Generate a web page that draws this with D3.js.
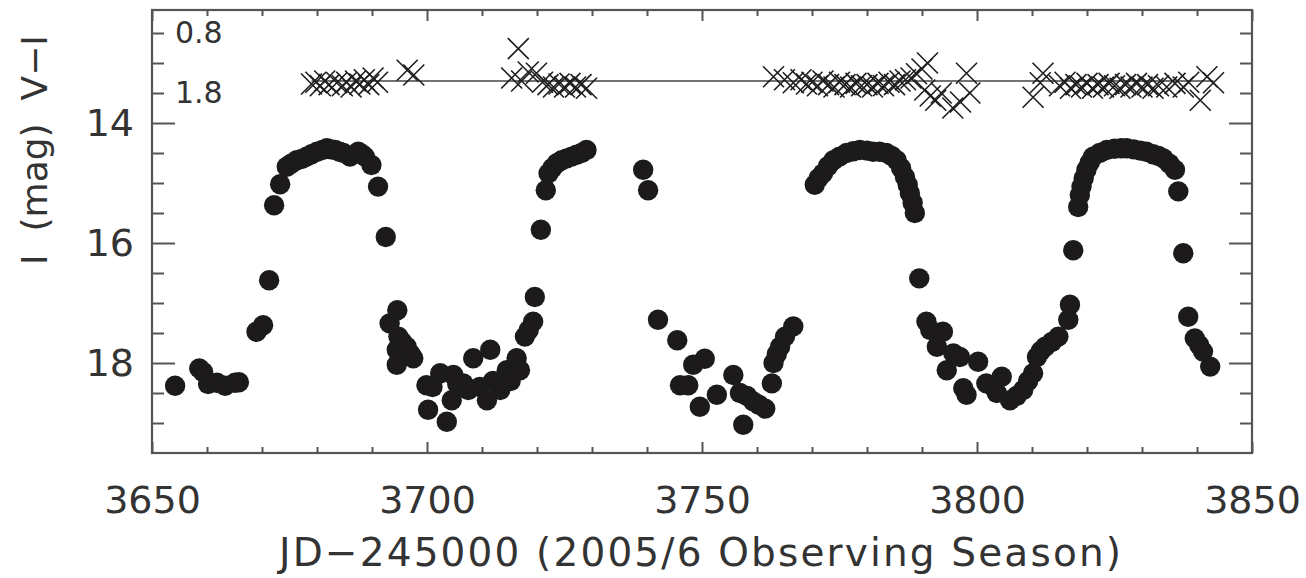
<!DOCTYPE html>
<html>
<head>
<meta charset="utf-8">
<script src="https://cdn.jsdelivr.net/npm/d3@7"></script>
<style>
  html, body { margin: 0; padding: 0; background: #fff; }
  svg { display: block; }
  text { font-family: "DejaVu Sans", sans-serif; fill: #333; }
</style>
</head>
<body>
<svg id="chart" width="1306" height="578"></svg>
<script>
// ---------- data ----------
const iDays = [
  3654.2, 3658.6, 3659.3, 3660.2, 3661.8, 3663.3, 3665.1, 3665.8,
  3669.0, 3670.2, 3671.3, 3672.2, 3673.3, 3674.5, 3675.3, 3676.3, 3677.2, 3678.1, 3679.0,
  3680.0, 3681.0, 3681.8, 3682.6, 3683.3, 3684.1, 3684.8, 3686.0, 3687.5, 3688.2, 3688.7,
  3689.9, 3691.1, 3692.5, 3693.2, 3694.6, 3694.8, 3694.5, 3695.5, 3696.3, 3697.0, 3697.5,
  3694.5, 3699.9, 3700.2,
  3701.0, 3702.4, 3703.6, 3704.5, 3704.8, 3705.5, 3706.6, 3707.5, 3708.4, 3709.6, 3710.9,
  3711.5, 3712.0, 3713.3, 3714.5, 3715.2, 3716.3, 3716.9, 3717.8, 3718.5, 3719.3, 3719.6,
  3720.7, 3721.6, 3722.1, 3722.8, 3723.6, 3724.5, 3725.4, 3726.3, 3727.2, 3728.1, 3729.0,
  3739.3, 3740.2, 3742.0, 3745.5, 3746.0, 3747.5, 3748.4, 3749.6, 3750.5, 3752.7, 3755.7,
  3756.9, 3757.5, 3758.2, 3759.3, 3760.4, 3761.5, 3762.7, 3763.0, 3763.6, 3764.2, 3765.1, 3766.6,
  3770.5, 3771.2, 3772.0, 3772.9, 3773.9, 3775.0, 3776.3, 3777.5, 3778.7, 3780.0, 3781.1,
  3782.3, 3783.5, 3784.5, 3785.4, 3786.2, 3786.9, 3787.4, 3787.8, 3788.3, 3788.7, 3789.5,
  3790.8, 3791.5, 3792.7, 3793.8, 3794.5, 3795.7, 3796.9, 3797.5, 3798.1, 3800.2, 3801.7,
  3803.0, 3803.6, 3804.5, 3806.0, 3807.2, 3808.4, 3809.3, 3810.2, 3810.9, 3811.6, 3812.4,
  3813.6, 3814.8, 3816.6, 3816.9, 3817.5, 3818.4, 3818.7, 3819.0, 3819.4, 3819.9, 3820.5,
  3821.1, 3822.3, 3823.6, 3825.0, 3826.2, 3827.2, 3828.5, 3829.7, 3830.8, 3832.0, 3833.0,
  3833.9, 3835.0, 3836.0, 3836.6, 3837.5, 3838.4, 3839.6, 3840.4, 3841.1, 3842.4
];
const iMags = [
  18.38, 18.09, 18.15, 18.35, 18.33, 18.38, 18.33, 18.32,
  17.48, 17.37, 16.62, 15.37, 15.02, 14.73, 14.68, 14.62, 14.60, 14.56, 14.52,
  14.48, 14.45, 14.42, 14.44, 14.45, 14.48, 14.50, 14.56, 14.48, 14.52, 14.56,
  14.70, 15.06, 15.90, 17.34, 17.12, 17.56, 17.78, 17.65, 17.73, 17.85, 17.92,
  18.03, 18.37, 18.78,
  18.40, 18.17, 18.98, 18.62, 18.20, 18.35, 18.34, 18.45, 17.92, 18.40, 18.62,
  17.78, 18.30, 18.45, 18.12, 18.30, 17.92, 18.12, 17.56, 17.45, 17.31, 16.90,
  15.78, 15.12, 14.84, 14.75, 14.67, 14.62, 14.59, 14.56, 14.53, 14.50, 14.45,
  14.78, 15.12, 17.28, 17.62, 18.37, 18.37, 18.03, 18.73, 17.93, 18.53, 18.20,
  18.50, 19.03, 18.55, 18.64, 18.70, 18.76, 18.34, 18.00, 17.85, 17.73, 17.56, 17.39,
  15.03, 14.92, 14.84, 14.72, 14.62, 14.56, 14.50, 14.47, 14.45, 14.46, 14.48,
  14.48, 14.50, 14.55, 14.62, 14.75, 14.90, 15.03, 15.17, 15.33, 15.50, 16.59,
  17.31, 17.45, 17.73, 17.48, 18.12, 17.84, 17.90, 18.42, 18.53, 17.98, 18.34,
  18.40, 18.50, 18.23, 18.62, 18.55, 18.45, 18.30, 18.17, 17.90, 17.80, 17.73,
  17.65, 17.56, 17.28, 17.03, 16.12, 15.40, 15.20, 15.06, 14.92, 14.78, 14.66,
  14.56, 14.50, 14.45, 14.43, 14.42, 14.42, 14.44, 14.46, 14.48, 14.52, 14.55,
  14.59, 14.68, 14.78, 15.14, 16.17, 17.23, 17.59, 17.70, 17.81, 18.06
];

const viDays = [
  3679.0, 3679.8, 3680.6, 3681.4, 3682.2, 3683.6, 3684.6, 3685.4, 3686.2, 3687.0,
  3687.8, 3688.6, 3689.4, 3690.2, 3691.0, 3696.4, 3697.6,
  3715.4, 3716.6, 3717.2, 3718.4, 3719.9, 3721.0, 3722.0, 3723.0, 3724.0, 3725.0,
  3726.0, 3727.0, 3728.0, 3729.0,
  3763.0, 3765.0, 3766.6, 3768.0, 3769.0, 3770.0, 3771.0, 3772.0, 3773.0, 3774.0,
  3775.0, 3776.0, 3777.0, 3778.0, 3779.0, 3780.0, 3781.0, 3782.0, 3783.0, 3784.0,
  3785.0, 3786.0, 3787.0, 3788.0, 3789.0, 3790.0, 3791.0, 3790.5, 3791.5, 3792.5,
  3793.5, 3795.6, 3797.0, 3798.1, 3798.7,
  3810.2, 3811.5, 3812.0, 3815.0, 3816.0, 3817.0, 3818.0, 3819.0, 3820.0, 3821.0,
  3822.0, 3823.0, 3824.0, 3825.0, 3826.0, 3827.0, 3828.0, 3829.0, 3830.0, 3831.0,
  3832.0, 3833.0, 3834.5, 3836.0, 3837.5, 3838.5, 3840.6, 3841.8, 3843.0
];
const viColors = [
  1.65, 1.62, 1.68, 1.60, 1.66, 1.63, 1.68, 1.62, 1.70, 1.60,
  1.65, 1.58, 1.66, 1.55, 1.62, 1.42, 1.50,
  1.55, 1.06, 1.60, 1.45, 1.47, 1.62, 1.66, 1.70, 1.65, 1.70,
  1.64, 1.70, 1.66, 1.72,
  1.53, 1.58, 1.63, 1.58, 1.65, 1.62, 1.68, 1.60, 1.66, 1.70,
  1.62, 1.66, 1.70, 1.64, 1.68, 1.66, 1.70, 1.64, 1.68, 1.62,
  1.66, 1.60, 1.58, 1.55, 1.48, 1.40, 1.30, 1.75, 1.85, 1.92,
  1.80, 2.05, 1.95, 1.47, 1.80,
  1.87, 1.63, 1.47, 1.68, 1.62, 1.72, 1.66, 1.70, 1.64, 1.72,
  1.66, 1.70, 1.64, 1.68, 1.72, 1.66, 1.70, 1.64, 1.70, 1.66,
  1.72, 1.68, 1.70, 1.64, 1.70, 1.62, 1.92, 1.53, 1.63
];
const viMean = 1.6;

const xMajorTicks = [3650, 3700, 3750, 3800, 3850];
const iMajorTicks = [14, 16, 18];
const viTickLabels = [0.8, 1.8];
const xTitle = "JD\u2212245000 (2005/6 Observing Season)";
const yTitle = "I  (mag)  V\u2212I";

// ---------- layout ----------
const L = 152, R = 1252, T = 10, B = 453;
const svg = d3.select("#chart");
const x = d3.scaleLinear().domain([3650, 3850]).range([L, R]);
const yI = d3.scaleLinear().domain([14, 18]).range([123, 363]);
const yVI = d3.scaleLinear().domain([0.8, 1.8]).range([33, 93]);

const xMinor = d3.range(3650, 3851, 10).filter(v => !xMajorTicks.includes(v));
const iMinor = d3.range(12.5, 19.01, 0.5).filter(v => !iMajorTicks.includes(v));

const axisColor = "#555";
function styleAxis(g) {
  g.select(".domain").remove();
  g.selectAll(".tick line").attr("stroke", axisColor).attr("stroke-width", 2);
}

// bottom
svg.append("g").attr("transform", `translate(0,${B})`)
  .call(d3.axisBottom(x).tickValues(xMajorTicks).tickSize(-11).tickPadding(33).tickFormat(d3.format("d")))
  .call(styleAxis)
  .call(g => g.selectAll("text").attr("font-size", 38).attr("fill", "#333").attr("font-family", "DejaVu Sans"));
svg.append("g").attr("transform", `translate(0,${B})`)
  .call(d3.axisBottom(x).tickValues(xMinor).tickSize(-6).tickFormat(""))
  .call(styleAxis);
// top
svg.append("g").attr("transform", `translate(0,${T})`)
  .call(d3.axisTop(x).tickValues(xMajorTicks).tickSize(-11).tickFormat(""))
  .call(styleAxis);
svg.append("g").attr("transform", `translate(0,${T})`)
  .call(d3.axisTop(x).tickValues(xMinor).tickSize(-6).tickFormat(""))
  .call(styleAxis);
// left
svg.append("g").attr("transform", `translate(${L},0)`)
  .call(d3.axisLeft(yI).tickValues(iMajorTicks).tickSize(-23).tickPadding(18).tickFormat(d3.format("d")))
  .call(styleAxis)
  .call(g => g.selectAll("text").attr("font-size", 38).attr("fill", "#333").attr("font-family", "DejaVu Sans"));
svg.append("g").attr("transform", `translate(${L},0)`)
  .call(d3.axisLeft(yI).tickValues(iMinor).tickSize(-12).tickFormat(""))
  .call(styleAxis);
// right
svg.append("g").attr("transform", `translate(${R},0)`)
  .call(d3.axisRight(yI).tickValues(iMajorTicks).tickSize(-23).tickFormat(""))
  .call(styleAxis);
svg.append("g").attr("transform", `translate(${R},0)`)
  .call(d3.axisRight(yI).tickValues(iMinor).tickSize(-12).tickFormat(""))
  .call(styleAxis);
// V-I labels inside
svg.append("g").attr("transform", `translate(${L},0)`)
  .call(d3.axisRight(yVI).tickValues(viTickLabels).tickSize(0).tickPadding(23).tickFormat(d3.format(".1f")))
  .call(g => g.select(".domain").remove())
  .call(g => g.selectAll("line").remove())
  .call(g => g.selectAll("text").attr("font-size", 30).attr("fill", "#333").attr("font-family", "DejaVu Sans"));

// frame
svg.append("rect").attr("x", L).attr("y", T).attr("width", R - L).attr("height", B - T)
  .attr("fill", "none").attr("stroke", axisColor).attr("stroke-width", 2.2);

// mean V-I line
svg.append("line")
  .attr("x1", x(d3.min(viDays))).attr("x2", x(d3.max(viDays)))
  .attr("y1", yVI(viMean)).attr("y2", yVI(viMean))
  .attr("stroke", "#444").attr("stroke-width", 1.6);

// V-I crosses
const h = 10.5;
svg.append("g").selectAll("path").data(viDays.map((d, i) => [d, viColors[i]])).join("path")
  .attr("d", d => {
    const cx = x(d[0]), cy = yVI(d[1]);
    return `M${cx - h},${cy - h}L${cx + h},${cy + h}M${cx - h},${cy + h}L${cx + h},${cy - h}`;
  })
  .attr("stroke", "#1e1e1e").attr("stroke-width", 1.6).attr("fill", "none");

// I-band dots
svg.append("g").selectAll("circle").data(iDays.map((d, i) => [d, iMags[i]])).join("circle")
  .attr("cx", d => x(d[0])).attr("cy", d => yI(d[1])).attr("r", 10.2)
  .attr("fill", "#1c1a1a");

// titles
svg.append("text").attr("x", 700).attr("y", 566).attr("text-anchor", "middle")
  .attr("font-size", 39).attr("textLength", 842).attr("lengthAdjust", "spacing").text(xTitle);
svg.append("text").attr("transform", "translate(47,150) rotate(-90)").attr("text-anchor", "middle")
  .attr("font-size", 36).attr("xml:space", "preserve").style("white-space", "pre").text(yTitle);
</script>
</body>
</html>
